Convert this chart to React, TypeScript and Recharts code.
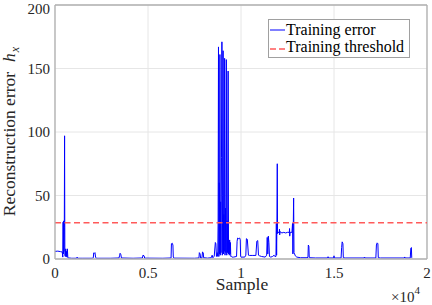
import React from "react";
import {
  LineChart,
  Line,
  XAxis,
  YAxis,
  CartesianGrid,
  ReferenceLine,
} from "recharts";

// [sample, reconstruction error] pairs, grouped by stretch of the record
const startSegment: [number, number][] = [
  [0, 6], [150, 6.2], [300, 5.8], [390, 5.5], [420, 1.5], [435, 29], [450, 4],
  [465, 30], [480, 6], [500, 25], [515, 97], [530, 3], [555, 2], [575, 8],
  [595, 2], [615, 6], [640, 1.5], [665, 8], [690, 1], [740, 0.8], [900, 0.6],
  [1170, 0.6], [1190, 1.5], [1210, 0.6], [1500, 0.6],
];

const quietSegment: [number, number][] = [
  [2000, 0.6], [2060, 1], [2080, 4.8], [2120, 4.5], [2150, 5], [2180, 1.5],
  [2220, 0.6], [3000, 0.6], [3440, 0.8], [3470, 2.5], [3500, 4.5], [3540, 3.5],
  [3570, 0.8], [4200, 0.6], [4700, 0.8], [4730, 3], [4790, 2.5], [4820, 0.7],
  [5800, 0.6], [6240, 0.8], [6260, 12], [6300, 12.5], [6340, 11], [6360, 1.5],
  [6400, 0.7], [7500, 0.6], [7740, 0.8], [7760, 5], [7800, 4], [7830, 0.8],
  [7900, 0.8], [7930, 5.5], [7970, 5], [7990, 1], [8200, 0.7],
];

const burstSegment: [number, number][] = [
  [8400, 1], [8450, 3], [8480, 1], [8560, 2], [8620, 13], [8650, 12],
  [8680, 2], [8720, 5], [8750, 2], [8770, 30], [8790, 167], [8810, 2],
  [8830, 60], [8850, 4], [8866, 161], [8885, 3], [8905, 45], [8925, 5],
  [8950, 80], [8974, 171], [8995, 3], [9015, 50], [9038, 164], [9060, 4],
  [9080, 35], [9100, 6], [9119, 158], [9140, 3], [9165, 40], [9185, 5],
  [9211, 157], [9235, 3], [9255, 30], [9280, 5], [9307, 148], [9330, 4],
  [9350, 12], [9370, 3], [9390, 15], [9410, 4], [9430, 13], [9450, 2],
  [9480, 2], [9520, 1.5],
];

const recoverySegment: [number, number][] = [
  [9600, 1.5], [9760, 2], [9790, 14], [9820, 16.5], [9880, 16], [9930, 16.5],
  [9960, 15], [9980, 2], [10000, 1.5], [10200, 1.5], [10260, 3], [10290, 16],
  [10340, 15.5], [10400, 3], [10460, 2.8], [10600, 2.8], [10800, 2.8],
  [10850, 14], [10900, 14.5], [10940, 3], [11000, 2.5], [11100, 2],
  [11300, 1.5], [11380, 3], [11410, 17], [11440, 4], [11470, 18], [11500, 13],
  [11530, 2], [11600, 1.5], [11700, 2], [11780, 3], [11820, 2], [11880, 2],
];

const plateauSegment: [number, number][] = [
  [11900, 28], [11915, 3], [11930, 26], [11950, 75], [11965, 20], [11990, 21],
  [12060, 21], [12070, 23.5], [12080, 19], [12100, 21.5], [12200, 20.5],
  [12300, 21], [12400, 20.5], [12500, 21], [12600, 21], [12610, 24],
  [12620, 18], [12640, 21], [12740, 21], [12770, 28], [12790, 4],
  [12810, 26], [12830, 48], [12850, 5], [12880, 4], [12920, 2.5],
  [13000, 1.5], [13200, 1],
];

const tailSegment: [number, number][] = [
  [13500, 1], [13600, 1.2], [13620, 11], [13650, 10], [13670, 1.2],
  [13700, 1], [14000, 0.8], [14650, 0.8], [14680, 1.8], [14710, 0.8],
  [14980, 0.8], [15000, 2.5], [15020, 0.8], [15380, 0.8], [15410, 9],
  [15440, 13.5], [15480, 12], [15500, 1], [15600, 0.8], [16620, 0.8],
  [16640, 1.5], [16660, 0.8], [17250, 0.8], [17280, 11], [17320, 12.7],
  [17360, 12], [17380, 1], [17500, 0.8], [18780, 0.8], [18800, 1.6],
  [18820, 0.8], [19100, 0.8], [19130, 8.5], [19160, 9], [19180, 1],
  [19200, 0.8],
];

const trainingThreshold = 28.5;
const xTicks = [0, 5000, 10000, 15000, 20000];
const yTicks = [0, 50, 100, 150, 200];
const seriesNames = ["Training error", "Training threshold"];

const data = [
  ...startSegment,
  ...quietSegment,
  ...burstSegment,
  ...recoverySegment,
  ...plateauSegment,
  ...tailSegment,
].map(([sample, error]) => ({ sample, error }));

const FONT = "Liberation Serif, Times New Roman, serif";
const TEXT = "#262626";
const AXIS = "#b0b0b0";
const BLUE = "#0000ff";
const RED = "#ff5a5a";

const yLabel = () => (
  <text
    x={14.5}
    y={131.5}
    transform="rotate(-90, 14.5, 131.5)"
    textAnchor="middle"
    fontFamily={FONT}
    fontSize={17.5}
    fill={TEXT}
  >
    Reconstruction error
    <tspan dx={10} fontStyle="italic">h</tspan>
    <tspan dx={1} dy={4} fontSize={12} fontStyle="italic">x</tspan>
  </text>
);

const xLabel = () => (
  <g fill={TEXT} fontFamily={FONT}>
    <text x={242} y={289.5} textAnchor="middle" fontSize={17.5}>
      Sample
    </text>
    <text x={391} y={302} fontSize={15}>
      ×10
      <tspan dy={-8} fontSize={11}>4</tspan>
    </text>
  </g>
);

// MATLAB-style boxed legend in the upper right of the axes
const LegendBox = () => (
  <div
    style={{
      position: "absolute",
      top: 19,
      left: 268,
      width: 139,
      height: 33,
      border: "1px solid #a0a0a0",
      background: "#fff",
      padding: "2px 0 2px 1px",
      fontFamily: FONT,
      fontSize: 16,
      lineHeight: "16.5px",
      color: "#000",
      whiteSpace: "nowrap",
    }}
  >
    <div style={{ display: "flex", alignItems: "center", height: 16.5 }}>
      <svg width={16} height={16.5} style={{ flex: "none" }}>
        <line x1={0} x2={15} y1={8} y2={8} stroke={BLUE} strokeWidth={1} />
      </svg>
      <span>{seriesNames[0]}</span>
    </div>
    <div style={{ display: "flex", alignItems: "center", height: 16.5 }}>
      <svg width={16} height={16.5} style={{ flex: "none" }}>
        <line
          x1={0}
          x2={15}
          y1={10}
          y2={10}
          stroke={RED}
          strokeWidth={1.6}
          strokeDasharray="6 3"
        />
      </svg>
      <span>{seriesNames[1]}</span>
    </div>
  </div>
);

const tickStyle = { fontSize: 15, fill: TEXT, fontFamily: FONT };

export default function App() {
  return (
    <div
      style={{
        position: "absolute",
        left: 0,
        top: 0,
        width: 432,
        height: 305,
        background: "#fff",
        fontFamily: FONT,
      }}
    >
      <style>{`.recharts-wrapper svg text { font-family: "Liberation Serif", "Times New Roman", serif; }`}</style>
      <LineChart
        width={432}
        height={305}
        data={data}
        margin={{ top: 5, right: 5, bottom: 0, left: 5 }}
      >
        <CartesianGrid stroke="#e6e6e6" strokeWidth={1} />
        <XAxis
          dataKey="sample"
          type="number"
          domain={[0, 20000]}
          ticks={xTicks}
          tickFormatter={(v: number) => String(v / 10000)}
          height={46}
          tickLine={false}
          tickSize={6}
          tickMargin={2.5}
          axisLine={{ stroke: AXIS, strokeWidth: 1.3 }}
          tick={tickStyle}
          label={xLabel}
        />
        <YAxis
          type="number"
          domain={[0, 200]}
          ticks={yTicks}
          width={50}
          tickLine={false}
          tickSize={3}
          tickMargin={2}
          axisLine={{ stroke: AXIS, strokeWidth: 1.3 }}
          tick={tickStyle}
          label={yLabel}
        />
        <ReferenceLine y={200} stroke={AXIS} strokeWidth={1.3} />
        <ReferenceLine x={20000} stroke={AXIS} strokeWidth={1.3} />
        <Line
          type="linear"
          dataKey="error"
          name={seriesNames[0]}
          stroke={BLUE}
          strokeWidth={1}
          dot={false}
          activeDot={false}
          isAnimationActive={false}
        />
        <ReferenceLine
          y={trainingThreshold}
          stroke={RED}
          strokeWidth={1.6}
          strokeDasharray="6 3.5"
        />
      </LineChart>
      <LegendBox />
    </div>
  );
}
